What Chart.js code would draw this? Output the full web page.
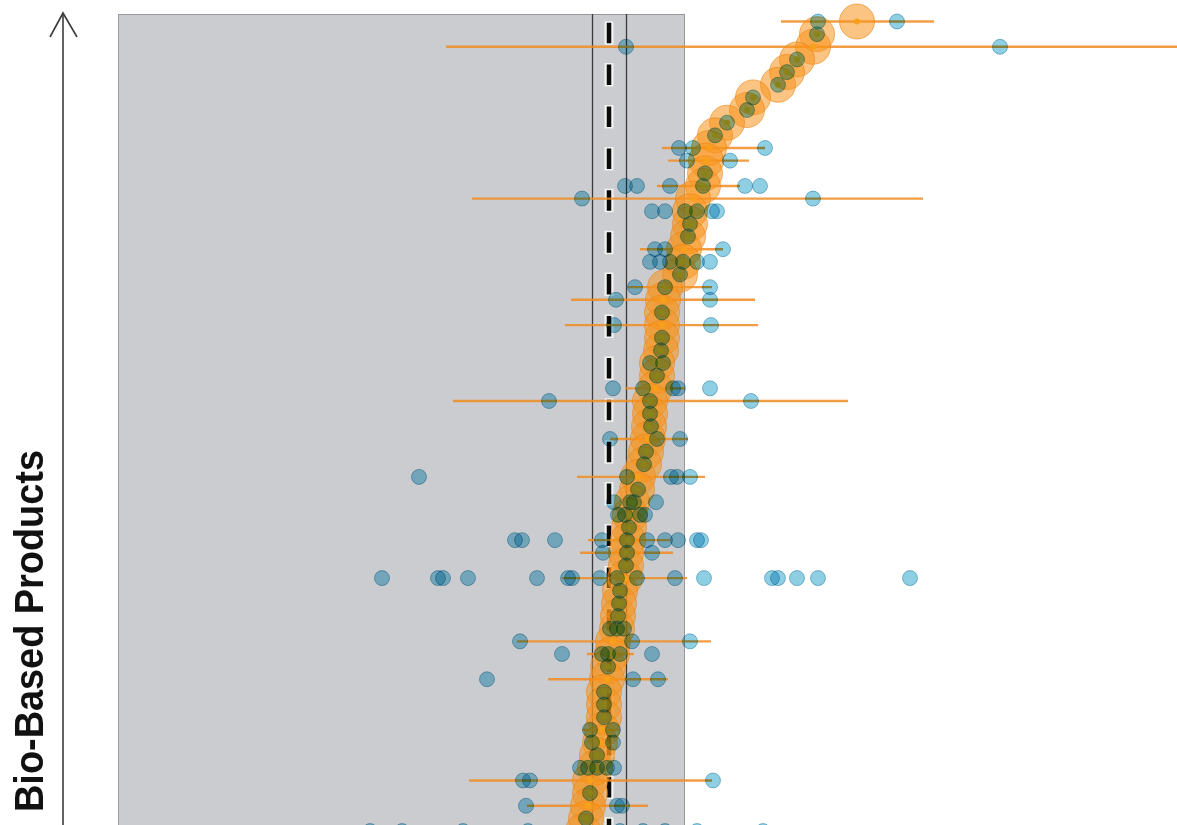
<!DOCTYPE html>
<html>
<head>
<meta charset="utf-8">
<script src="https://cdn.jsdelivr.net/npm/chart.js@4/dist/chart.umd.min.js"></script>
<style>
html,body{margin:0;padding:0;background:#fff;}
#wrap{position:relative;width:1177px;height:825px;overflow:hidden;}
canvas{display:block;}
</style>
</head>
<body>
<div id="wrap"><canvas id="c" width="1177" height="825"></canvas></div>
<script>
// ---------- DATA (effect units; 0 = pooled estimate) ----------
const axisTitle = 'Bio-Based Products';

const pooledMean = 0.02;
const pooledLow = -0.32;
const pooledHigh = 0.36;
const shadedLow = -9.8;
const shadedHigh = 1.54;

// one entry per row, from top to bottom
const rowEstimate = [
  4.98, 4.18, 4.10, 3.78, 3.58, 3.40, 2.90, 2.78, 2.38, 2.14,
  2.02, 1.96, 1.94, 1.90, 1.70, 1.64, 1.64, 1.60, 1.52, 1.50,
  1.44, 1.14, 1.10, 1.08, 1.08, 1.08, 1.06, 0.98, 0.98, 0.94,
  0.84, 0.84, 0.82, 0.80, 0.76, 0.72, 0.60, 0.58, 0.48, 0.44,
  0.42, 0.40, 0.36, 0.36, 0.34, 0.24, 0.22, 0.20, 0.18, 0.10,
  0.08, 0.00, -0.02, -0.08, -0.08, -0.08, -0.12, -0.16, -0.22, -0.26,
  -0.36, -0.36, -0.40, -0.44, -0.50
];

const rowLow = [
  3.46, null, -3.24, null, null, null, null, null, null, null,
  1.08, 1.20, null, 0.98, -2.72, null, null, null, 0.64, null,
  null, 0.40, -0.74, null, -0.86, null, null, null, null, 0.34,
  -3.10, null, null, 0.04, null, null, -0.62, null, null, null,
  null, -0.40, -0.56, null, -0.92, null, null, null, null, -1.82,
  -0.42, null, -1.20, null, null, null, -0.52, null, null, null,
  -2.78, null, -1.62, null, null
];

const rowHigh = [
  6.52, null, 12.0, null, null, null, null, null, null, null,
  3.14, 2.82, null, 2.64, 6.30, null, null, null, 2.30, null,
  null, 2.08, 2.94, null, 3.00, null, null, null, null, 1.54,
  4.80, null, null, 1.60, null, null, 1.94, null, null, null,
  null, 1.24, 1.30, null, 1.58, null, null, null, null, 2.06,
  0.52, null, 1.20, null, null, null, 0.24, null, null, null,
  2.08, null, 0.80, null, null
];

// individual observations per row
const observations = [
  [4.20, 5.78],
  [4.18],
  [0.36, 7.84],
  [3.78],
  [3.58],
  [3.40],
  [2.90],
  [2.78],
  [2.38],
  [2.14],
  [1.42, 1.70, 3.14],
  [1.58, 2.44],
  [1.94],
  [0.34, 0.58, 1.24, 1.90, 2.74, 3.04],
  [-0.52, 4.10],
  [0.88, 1.14, 1.54, 1.78, 2.08, 2.18],
  [1.64],
  [1.60],
  [0.94, 1.14, 2.30],
  [0.84, 1.04, 1.24, 1.50, 1.78, 2.04],
  [1.44],
  [0.54, 1.14, 2.04],
  [0.16, 2.04],
  [1.08],
  [0.12, 2.06],
  [1.08],
  [1.06],
  [0.84, 1.10],
  [0.98],
  [0.10, 0.70, 1.30, 1.40, 2.04],
  [-1.18, 0.84, 2.86],
  [0.84],
  [0.86],
  [0.04, 0.98, 1.44],
  [0.76],
  [0.72],
  [-3.78, 0.38, 1.26, 1.38, 1.64],
  [0.60],
  [0.12, 0.44, 0.52, 0.96],
  [0.20, 0.34, 0.64, 0.74],
  [0.42],
  [-1.86, -1.72, -1.06, -0.12, 0.38, 0.78, 1.14, 1.40, 1.78, 1.86],
  [-0.10, 0.38, 0.88],
  [0.36],
  [-4.52, -3.40, -3.30, -2.80, -1.42, -0.80, -0.72, -0.16, 0.18, 0.58, 1.34, 1.92, 3.28, 3.40, 3.78, 4.20, 6.04],
  [0.24],
  [0.22],
  [0.20],
  [0.04, 0.18, 0.32],
  [-1.76, 0.48, 1.64],
  [-0.92, -0.12, 0.00, 0.24, 0.88],
  [0.00],
  [-2.42, 0.50, 1.00],
  [-0.08],
  [-0.08],
  [-0.08],
  [-0.36, 0.10],
  [-0.32, 0.10],
  [-0.22],
  [-0.56, -0.40, -0.22, -0.02, 0.12],
  [-1.70, -1.56, 2.10],
  [-0.36],
  [-1.64, 0.18, 0.28],
  [-0.44],
  [-4.76, -4.12, -2.90, -1.60, 0.24, 0.70, 1.14, 1.78, 3.10]
];

// axis ranges
const xMin = -9.8, xMax = 11.38;
const yTopRow = -0.593, yBottomRow = 63.52;

// ---------- BUILD ----------
const estPoints = rowEstimate.map((v, k) => ({x: v, y: k}));
const obsPoints = [];
observations.forEach((arr, k) => arr.forEach(v => obsPoints.push({x: v, y: k})));

const decor = {
  id: 'decor',
  beforeDatasetsDraw(chart) {
    const {ctx, chartArea: a, scales: {x, y}} = chart;
    ctx.save();
    // shaded band
    const xl = x.getPixelForValue(shadedLow), xr = x.getPixelForValue(shadedHigh);
    ctx.fillStyle = '#cbcccf';
    ctx.fillRect(xl, a.top, xr - xl, a.bottom - a.top);
    ctx.strokeStyle = 'rgba(90,90,95,0.45)';
    ctx.lineWidth = 1;
    ctx.beginPath();
    ctx.moveTo(xl + 0.5, a.bottom + 2); ctx.lineTo(xl + 0.5, a.top + 0.5);
    ctx.lineTo(xr - 0.5, a.top + 0.5); ctx.lineTo(xr - 0.5, a.bottom + 2);
    ctx.stroke();

    // pooled interval lines
    ctx.strokeStyle = '#3a3a3a';
    ctx.lineWidth = 1.3;
    [pooledLow, pooledHigh].forEach(v => {
      const px = Math.round(x.getPixelForValue(v)) + 0.5;
      ctx.beginPath(); ctx.moveTo(px, a.top); ctx.lineTo(px, a.bottom); ctx.stroke();
    });

    // dashed pooled mean with white halo
    const mx = x.getPixelForValue(pooledMean);
    ctx.strokeStyle = 'rgba(255,255,255,0.75)';
    ctx.lineWidth = 9;
    ctx.setLineDash([23.5, 18.4]);
    ctx.lineDashOffset = -7.2;
    ctx.beginPath(); ctx.moveTo(mx, a.top); ctx.lineTo(mx, a.bottom); ctx.stroke();
    ctx.strokeStyle = '#0a0a0a';
    ctx.lineWidth = 4.5;
    ctx.setLineDash([20.5, 21.4]);
    ctx.lineDashOffset = -8.7;
    ctx.beginPath(); ctx.moveTo(mx, a.top); ctx.lineTo(mx, a.bottom); ctx.stroke();
    ctx.setLineDash([]);

    // error bars
    ctx.strokeStyle = 'rgba(240,140,35,0.85)';
    ctx.lineWidth = 2.4;
    rowEstimate.forEach((v, k) => {
      if (rowLow[k] == null) return;
      const py = y.getPixelForValue(k);
      ctx.beginPath();
      ctx.moveTo(x.getPixelForValue(rowLow[k]), py);
      ctx.lineTo(x.getPixelForValue(rowHigh[k]), py);
      ctx.stroke();
    });

    // vertical axis with arrow
    const ax = a.left - 55;
    ctx.strokeStyle = '#3c3c3c';
    ctx.lineWidth = 1.6;
    ctx.beginPath();
    ctx.moveTo(ax, a.bottom + 2); ctx.lineTo(ax, a.top - 1);
    ctx.stroke();
    ctx.beginPath();
    ctx.moveTo(ax - 13, a.top + 23); ctx.lineTo(ax, a.top - 1); ctx.lineTo(ax + 14, a.top + 23);
    ctx.stroke();

    // axis title
    ctx.fillStyle = '#111';
    ctx.font = 'bold 41px "Liberation Sans", Arial, sans-serif';
    ctx.textAlign = 'left';
    ctx.textBaseline = 'alphabetic';
    const w = ctx.measureText(axisTitle).width;
    ctx.translate(43, a.bottom - 13);
    ctx.rotate(-Math.PI / 2);
    ctx.scale(362 / w, 1);
    ctx.fillText(axisTitle, 0, 0);
    ctx.restore();
  },
  // observations (dataset 0, drawn last) are blended with multiply
  beforeDatasetDraw(chart, args) {
    if (args.index === 0) {
      chart.ctx.save();
      chart.ctx.globalCompositeOperation = 'multiply';
    }
  },
  afterDatasetDraw(chart, args) {
    if (args.index === 0) chart.ctx.restore();
  }
};

// Chart.js paints datasets from last to first, so the list is top layer first
new Chart(document.getElementById('c'), {
  type: 'scatter',
  data: {
    datasets: [
      {
        label: 'Observations',
        data: obsPoints,
        pointRadius: 7.5,
        pointHoverRadius: 7.5,
        backgroundColor: 'rgba(100,188,218,0.72)',
        borderColor: 'rgba(70,150,178,0.6)',
        borderWidth: 1,
        clip: false
      },
      {
        label: 'Estimate centre',
        data: estPoints,
        pointRadius: 3,
        pointHoverRadius: 3,
        backgroundColor: '#f7a11a',
        borderWidth: 0,
        clip: false
      },
      {
        label: 'Row estimate',
        data: estPoints,
        pointRadius: 17.5,
        pointHoverRadius: 17.5,
        backgroundColor: 'rgba(247,148,28,0.55)',
        borderColor: 'rgba(235,132,20,0.6)',
        borderWidth: 1,
        clip: false
      }
    ]
  },
  options: {
    responsive: false,
    animation: false,
    events: [],
    layout: {autoPadding: false, padding: {left: 118, right: 0, top: 14, bottom: 0}},
    plugins: {legend: {display: false}, tooltip: {enabled: false}, title: {display: false}},
    scales: {
      x: {type: 'linear', min: xMin, max: xMax, display: false},
      y: {type: 'linear', min: yTopRow, max: yBottomRow, reverse: true, display: false}
    }
  },
  plugins: [decor]
});
</script>
</body>
</html>
